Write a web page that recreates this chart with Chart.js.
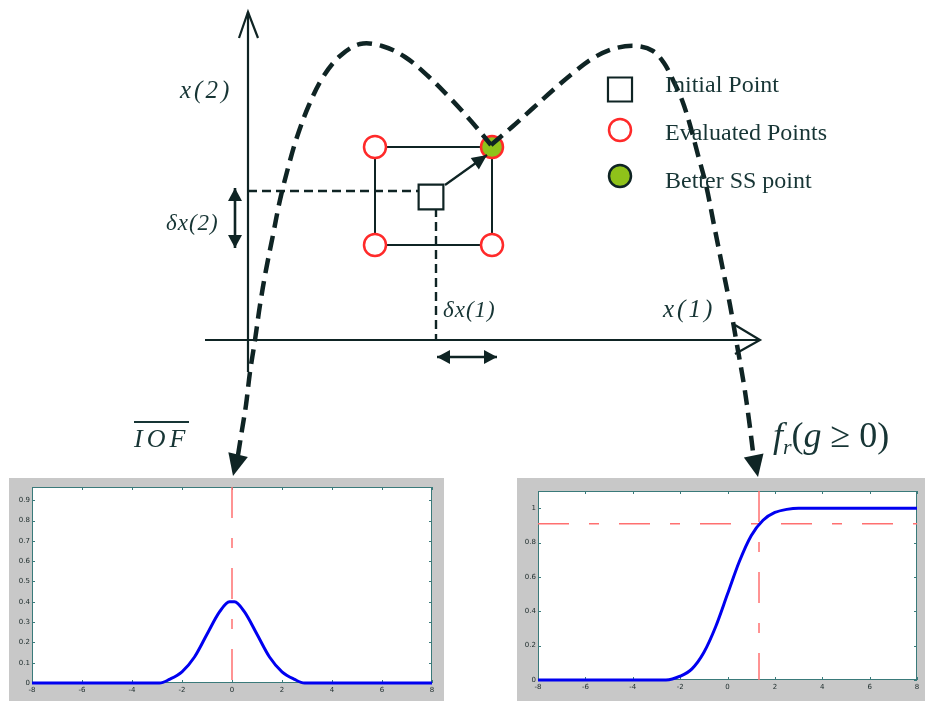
<!DOCTYPE html>
<html><head><meta charset="utf-8">
<script src="https://cdn.jsdelivr.net/npm/chart.js@4.4.1/dist/chart.umd.min.js"></script>
<style>
html,body{margin:0;padding:0;background:#fff;width:925px;height:701px;overflow:hidden;}
canvas{display:block;}
.abs{position:absolute;}
.lbl{position:absolute;font-family:"Liberation Serif","DejaVu Serif",serif;color:#173535;line-height:1;white-space:nowrap;}
.it{font-style:italic;}
.panel{position:absolute;background:#c8c8c8;}
</style></head><body>
<canvas id="top" class="abs" width="925" height="480" style="left:0;top:0"></canvas>
<div class="panel" style="left:9px;top:478px;width:435px;height:223px"><canvas id="iof" width="435" height="223"></canvas></div>
<div class="panel" style="left:517px;top:478px;width:408px;height:223px"><canvas id="fr" width="408" height="223"></canvas></div>

<div class="lbl it" style="left:180px;top:77px;font-size:25px;letter-spacing:3px">x(2)</div>
<div class="lbl it" style="left:166px;top:211px;font-size:23px;letter-spacing:1px">δx(2)</div>
<div class="lbl it" style="left:443px;top:298px;font-size:23px;letter-spacing:1px">δx(1)</div>
<div class="lbl it" style="left:663px;top:296px;font-size:25px;letter-spacing:3px">x(1)</div>
<div class="lbl" style="left:665px;top:72px;font-size:24px">Initial Point</div>
<div class="lbl" style="left:665px;top:120px;font-size:24px">Evaluated Points</div>
<div class="lbl" style="left:665px;top:168px;font-size:24px">Better SS point</div>
<div class="lbl it" style="left:134px;top:426px;font-size:26px;letter-spacing:4px"><span style="border-top:2px solid #173535;padding-top:1px">IOF</span></div>
<div class="lbl" style="left:773px;top:417px;font-size:36px"><span class="it">f</span><span class="it" style="font-size:22px;position:relative;top:7px">r</span>(<span class="it">g</span> ≥ 0)</div>

<script>
// ---------- Upper diagram data (design space x(1), x(2)) ----------
const boundaryLeftX1  = [-0.10,-0.06,-0.02,0.02,0.07,0.12,0.18,0.25,0.32,0.40,0.49,0.61,0.75,0.92,1.12,1.34,1.57,1.80,2.02,2.23,2.43];
const boundaryLeftX2  = [-1.15,-0.90,-0.65,-0.32,0.00,0.35,0.70,1.05,1.40,1.72,2.03,2.35,2.63,2.84,2.96,2.94,2.83,2.64,2.42,2.19,1.95];
const boundaryRightX1 = [2.43,2.64,2.84,3.04,3.25,3.47,3.68,3.89,4.05,4.16,4.25,4.34,4.42,4.50,4.58,4.66,4.74,4.82,4.89,4.96,5.01,5.05];
const boundaryRightX2 = [1.95,2.13,2.31,2.49,2.67,2.83,2.92,2.94,2.89,2.77,2.60,2.40,2.15,1.85,1.55,1.15,0.75,0.35,-0.05,-0.45,-0.80,-1.12];
const boundaryTipX1 = [-0.15, 5.10];
const boundaryTipX2 = [-1.36, -1.37];

const initialPoint = [1.83, 1.43];
const evaluatedX1 = [1.27, 1.27, 2.44];
const evaluatedX2 = [1.93, 0.95, 0.95];
const betterPoint = [2.44, 1.93];
const patternX1 = [1.27, 2.44, 2.44, 1.27, 1.27];
const patternX2 = [1.93, 1.93, 0.95, 0.95, 1.93];

const projX2Line = {x1: [0, 1.71], x2: [1.49, 1.49]};
const projX1Line = {x1: [1.88, 1.88], x2: [1.32, 0]};
const moveArrow = {x1: [1.97, 2.39], x2: [1.55, 1.85]};
const deltaX2Arrow = {x1: [-0.13, -0.13], x2: [1.52, 0.92]};
const deltaX1Arrow = {x1: [1.89, 2.49], x2: [-0.17, -0.17]};

const axisX1 = {x1: [-0.43, 5.12], x2: [0, 0]};
const axisX2 = {x1: [0, 0], x2: [-0.32, 3.28]};
const axisX1Head = {x1: [4.87, 5.12, 4.87], x2: [0.15, 0, -0.14]};
const axisX2Head = {x1: [-0.09, 0, 0.10], x2: [3.02, 3.28, 3.02]};

const legendX1 = [3.72, 3.72, 3.72];
const legendX2 = [2.505, 2.10, 1.64];

// ---------- Lower-left: IOF (density) ----------
const iofX = [-8,-2.9,-2.5,-2,-1.5,-1,-0.5,-0.1,0.1,0.5,1,1.5,2,2.5,2.9,8];
const iofY = [0,0,0.018,0.055,0.128,0.24,0.35,0.4,0.4,0.35,0.24,0.128,0.055,0.018,0,0];
const iofMean = 0;
// ---------- Lower-right: f_r(g>=0) (cumulative) ----------
const frX = [-8,-2.6,-2,-1.5,-1,-0.5,0,0.5,1,1.5,2,2.5,3,8];
const frY = [0,0,0.022,0.065,0.16,0.31,0.5,0.69,0.84,0.93,0.975,0.993,1,1];
const frTargetY = 0.91;
const frTargetX = 1.33;

const INK = '#0f2424';
const RED = '#ff2a2a';
const REF = '#ff7070';
const REF_DASH = [31, 20, 10, 20];
const pts = (xs, ys) => xs.map((v, i) => ({x: v, y: ys[i]}));

const arrowHeads = {
  id: 'arrowHeads',
  afterDatasetsDraw(chart) {
    const ctx = chart.ctx, sx = chart.scales.x, sy = chart.scales.y;
    const P = (a, b) => [sx.getPixelForValue(a), sy.getPixelForValue(b)];
    const tri = (from, to, len, half) => {
      const dx = to[0] - from[0], dy = to[1] - from[1], d = Math.hypot(dx, dy);
      const ux = dx / d, uy = dy / d, bx = to[0] - ux * len, by = to[1] - uy * len;
      ctx.beginPath(); ctx.moveTo(to[0], to[1]);
      ctx.lineTo(bx - uy * half, by + ux * half);
      ctx.lineTo(bx + uy * half, by - ux * half);
      ctx.closePath(); ctx.fill();
    };
    ctx.save(); ctx.fillStyle = INK;
    tri(P(boundaryLeftX1[0], boundaryLeftX2[0]), P(boundaryTipX1[0], boundaryTipX2[0]), 22, 10);
    const n = boundaryRightX1.length - 1;
    tri(P(boundaryRightX1[n], boundaryRightX2[n]), P(boundaryTipX1[1], boundaryTipX2[1]), 22, 10);
    tri(P(moveArrow.x1[0], moveArrow.x2[0]), P(moveArrow.x1[1], moveArrow.x2[1]), 15, 7);
    for (const a of [deltaX2Arrow, deltaX1Arrow]) {
      tri(P(a.x1[1], a.x2[1]), P(a.x1[0], a.x2[0]), 13, 7);
      tri(P(a.x1[0], a.x2[0]), P(a.x1[1], a.x2[1]), 13, 7);
    }
    ctx.restore();
  }
};

const lineDs = (o, width, dash, order) => ({
  data: pts(o.x1, o.x2), showLine: true, borderColor: INK, borderWidth: width,
  borderDash: dash || [], pointRadius: 0, order: order, tension: 0
});

new Chart(document.getElementById('top'), {
  type: 'scatter',
  data: {datasets: [
    {data: pts(boundaryLeftX1, boundaryLeftX2), showLine: true, borderColor: INK, borderWidth: 4.5, borderDash: [15, 8], pointRadius: 0, tension: 0.35, order: 1},
    {data: pts(boundaryRightX1, boundaryRightX2), showLine: true, borderColor: INK, borderWidth: 4.5, borderDash: [15, 8], pointRadius: 0, tension: 0.35, order: 1},
    {data: pts([betterPoint[0], legendX1[2]], [betterPoint[1], legendX2[2]]), pointRadius: 11, pointBackgroundColor: '#8fc21a', pointBorderColor: [RED, INK], pointBorderWidth: 2.5, order: 3},
    {data: pts(evaluatedX1.concat([legendX1[1]]), evaluatedX2.concat([legendX2[1]])), pointStyle: 'circle', pointRadius: 11, pointBorderWidth: 2.5, pointBorderColor: RED, pointBackgroundColor: '#fff', order: 2},
    {data: pts([initialPoint[0], legendX1[0]], [initialPoint[1], legendX2[0]]), pointStyle: 'rect', pointRadius: [17.5, 17], pointBorderWidth: 2.2, pointBorderColor: INK, pointBackgroundColor: '#fff', order: 2},
    lineDs(moveArrow, 2.2, null, 2),
    lineDs({x1: patternX1, x2: patternX2}, 2, null, 5),
    lineDs(projX2Line, 2.4, [9, 5], 4),
    lineDs(projX1Line, 2.4, [9, 5], 4),
    lineDs(axisX1, 2.2, null, 6),
    lineDs(axisX2, 2.2, null, 6),
    lineDs(axisX1Head, 2.2, null, 6),
    lineDs(axisX2Head, 2.2, null, 6),
    lineDs(deltaX2Arrow, 2.6, null, 6),
    lineDs(deltaX1Arrow, 2.6, null, 6)
  ]},
  options: {
    responsive: false, animation: false, events: [],
    layout: {padding: 0, autoPadding: false},
    plugins: {legend: {display: false}, tooltip: {enabled: false}},
    scales: {
      x: {type: 'linear', min: -2.48, max: 6.77, display: false},
      y: {type: 'linear', min: -1.40, max: 3.40, display: false}
    }
  },
  plugins: [arrowHeads]
});

// ---------- MATLAB-like panels ----------
const BOX = '#3a7a7a';
const matlabBox = {
  id: 'matlabBox',
  beforeDraw(chart) {
    const a = chart.chartArea, c = chart.ctx;
    c.save(); c.fillStyle = '#fff';
    c.fillRect(a.left, a.top, a.right - a.left, a.bottom - a.top); c.restore();
  },
  beforeDatasetsDraw(chart) {
    const a = chart.chartArea, c = chart.ctx, sx = chart.scales.x, sy = chart.scales.y;
    c.save(); c.strokeStyle = BOX; c.lineWidth = 1;
    c.strokeRect(a.left + 0.5, a.top + 0.5, a.right - a.left - 1, a.bottom - a.top - 1);
    c.beginPath();
    for (const t of sx.ticks) {
      const p = Math.round(sx.getPixelForValue(t.value)) + 0.5;
      c.moveTo(p, a.bottom); c.lineTo(p, a.bottom - 3);
      c.moveTo(p, a.top); c.lineTo(p, a.top + 3);
    }
    for (const t of sy.ticks) {
      const p = Math.round(sy.getPixelForValue(t.value)) + 0.5;
      c.moveTo(a.left, p); c.lineTo(a.left + 3, p);
      c.moveTo(a.right, p); c.lineTo(a.right - 3, p);
    }
    c.stroke(); c.restore();
  }
};

function panel(id, cfg) {
  const tickFont = {size: 7, family: 'DejaVu Sans'};
  new Chart(document.getElementById(id), {
    type: 'scatter',
    data: {datasets: cfg.datasets},
    options: {
      responsive: false, animation: false, events: [],
      layout: {padding: cfg.padding, autoPadding: false},
      plugins: {legend: {display: false}, tooltip: {enabled: false}},
      scales: {
        x: {type: 'linear', min: -8, max: 8,
            grid: {display: false, drawTicks: false}, border: {display: false},
            ticks: {stepSize: 2, font: tickFont, color: '#1b2a2a', padding: 3, maxRotation: 0, includeBounds: false},
            afterFit(s) { s.height = cfg.xh; }},
        y: {type: 'linear', min: 0, max: cfg.ymax,
            grid: {display: false, drawTicks: false}, border: {display: false},
            ticks: {stepSize: cfg.ystep, font: tickFont, color: '#1b2a2a', padding: 2, includeBounds: false,
                    callback: v => String(Number(v.toFixed(2)))},
            afterFit(s) { s.width = cfg.yw; }}
      }
    },
    plugins: [matlabBox]
  });
}

panel('iof', {
  padding: {left: 0, right: 12, top: 9, bottom: 0}, xh: 18, yw: 23, ymax: 0.965, ystep: 0.1,
  datasets: [
    {data: pts(iofX, iofY), showLine: true, borderColor: '#0000f0', borderWidth: 3, pointRadius: 0, cubicInterpolationMode: 'monotone', clip: false, order: 1},
    {data: pts([iofMean, iofMean], [0.965, 0]), showLine: true, borderColor: REF, borderWidth: 1.5, borderDash: REF_DASH, pointRadius: 0, order: 2}
  ]
});

panel('fr', {
  padding: {left: 0, right: 8, top: 13, bottom: 0}, xh: 21, yw: 21, ymax: 1.1, ystep: 0.2,
  datasets: [
    {data: pts(frX, frY), showLine: true, borderColor: '#0000f0', borderWidth: 3, pointRadius: 0, cubicInterpolationMode: 'monotone', clip: false, order: 1},
    {data: pts([-8, 8], [frTargetY, frTargetY]), showLine: true, borderColor: REF, borderWidth: 1.5, borderDash: REF_DASH, pointRadius: 0, order: 2},
    {data: pts([frTargetX, frTargetX], [1.1, 0]), showLine: true, borderColor: REF, borderWidth: 1.5, borderDash: REF_DASH, pointRadius: 0, order: 2}
  ]
});
</script>
</body></html>
